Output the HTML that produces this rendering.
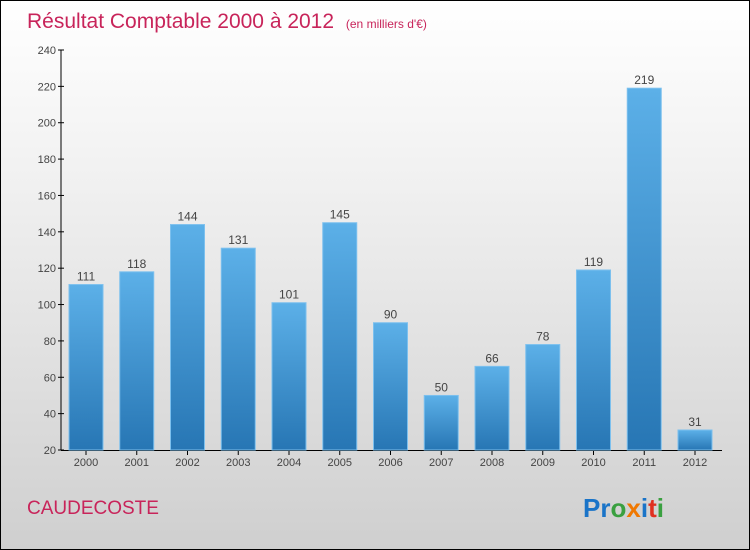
<!DOCTYPE html>
<html><head><meta charset="utf-8"><style>
body{margin:0}
#c{width:748px;height:548px;border:1px solid #000;background:linear-gradient(#fff,#f2f2f2 30%,#cfcfcf);position:relative;overflow:hidden;font-family:"Liberation Sans",sans-serif}
</style></head><body>
<div id="c">
<svg width="748" height="548">
<defs><linearGradient id="g" x1="0" y1="0" x2="0" y2="1"><stop offset="0" stop-color="#5cb0e8"/><stop offset="1" stop-color="#2776b4"/></linearGradient></defs>
<text x="26" y="27" font-size="21" fill="#c8245a">Résultat Comptable 2000 à 2012 <tspan font-size="12" dx="6">(en milliers d'€)</tspan></text>
<g id="axes"></g><g id="bars"></g>
<text x="26" y="513" font-size="19" fill="#c8245a">CAUDECOSTE</text>
<text x="582" y="516" font-size="26" font-weight="bold"><tspan fill="#1a74c8">Pr</tspan><tspan fill="#3aa040">o</tspan><tspan fill="#f07800">x</tspan><tspan fill="#1a74c8">i</tspan><tspan fill="#e03020">t</tspan><tspan fill="#3aa040">i</tspan></text>
</svg></div>
<script>
const categories=["2000","2001","2002","2003","2004","2005","2006","2007","2008","2009","2010","2011","2012"];
const values=[111,118,144,131,101,145,90,50,66,78,119,219,31];
const ticks=[20,40,60,80,100,120,140,160,180,200,220,240];
const NS="http://www.w3.org/2000/svg";
const y=v=>449-(v-20)*400/220;
const x=i=>85+i*50.75;
function mk(t,a,p){const e=document.createElementNS(NS,t);for(const k in a)e.setAttribute(k,a[k]);p.appendChild(e);return e;}
const ax=document.getElementById('axes'),bg=document.getElementById('bars');
const yl=mk('line',{x1:60,y1:y(240),x2:60,y2:449,stroke:'#000'},ax);


const xl=mk('line',{x1:60,y1:449.5,x2:721,y2:449.5,stroke:'#000'},ax);


ticks.forEach(t=>{
 mk('line',{x1:57,x2:63,y1:y(t),y2:y(t),stroke:'#000'},ax);
 const tx=mk('text',{x:55,y:y(t)+4,'text-anchor':'end','font-size':11,fill:'#444'},ax);tx.textContent=t;
 
 
});
categories.forEach((c,i)=>{
 const cx=x(i),v=values[i];
 const r=mk('rect',{x:cx-17,y:y(v),width:34,height:449-y(v),fill:'url(#g)',stroke:'#7cc0ee','stroke-width':1},bg);
 
 
 const l=mk('text',{x:cx,y:y(v)-4,'text-anchor':'middle','font-size':12,fill:'#444'},bg);l.textContent=v;
 
 
 mk('line',{x1:cx,x2:cx,y1:449,y2:454,stroke:'#000'},ax);
 const t=mk('text',{x:cx,y:465,'text-anchor':'middle','font-size':11,fill:'#444'},ax);t.textContent=c;
 
 
});
</script></body></html>
